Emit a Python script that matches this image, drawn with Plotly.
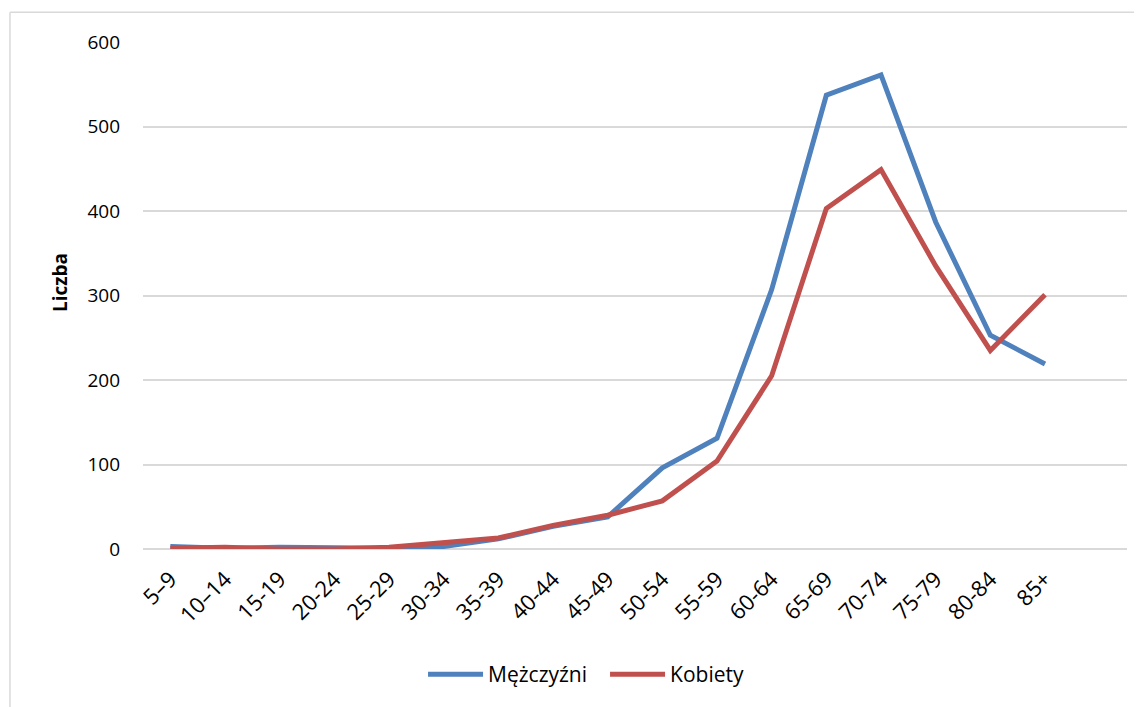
import plotly.graph_objects as go

categories = ["5–9", "10–14", "15-19", "20-24", "25-29", "30-34", "35-39", "40-44",
              "45-49", "50-54", "55-59", "60-64", "65-69", "70-74", "75-79", "80-84", "85+"]
men = [3, 1, 2, 2, 1, 3, 12, 27, 38, 96, 131, 307, 537, 561, 387, 253, 219]
women = [1, 2, 0, 0, 2, 7, 13, 28, 40, 57, 104, 205, 403, 449, 335, 235, 301]

FONT = "Open Sans"

fig = go.Figure()
fig.add_trace(go.Scatter(x=categories, y=men, mode="lines", name="Mężczyźni",
                         line=dict(color="#4F81BD", width=5)))
fig.add_trace(go.Scatter(x=categories, y=women, mode="lines", name="Kobiety",
                         line=dict(color="#C0504D", width=5)))

fig.update_layout(
    width=1134, height=699,
    margin=dict(l=135, r=15, t=34, b=156),
    paper_bgcolor="white", plot_bgcolor="white",
    font=dict(family=FONT, size=18, color="#000000"),
    showlegend=True,
    legend=dict(orientation="h", x=0.2846, xanchor="left", y=-0.2475, yanchor="middle",
                font=dict(size=21), itemwidth=55, entrywidth=112, traceorder="normal"),
    shapes=[
        dict(type="line", xref="paper", yref="paper", x0=-0.1352, x1=1.02, y0=1.0589, y1=1.0589,
             line=dict(color="#d9d9d9", width=1.5)),
        dict(type="line", xref="paper", yref="paper", x0=-0.1352, x1=-0.1352, y0=1.0589, y1=-0.32,
             line=dict(color="#d9d9d9", width=1.5)),
    ],
    annotations=[
        dict(text="<b>Liczba</b>", xref="paper", yref="paper", x=-0.0843, y=0.5246,
             xanchor="center", yanchor="middle", textangle=-90, showarrow=False,
             font=dict(size=19)),
    ],
)
fig.update_xaxes(type="category", range=[-0.5, 17.5], tickangle=-45, showgrid=False,
                 showline=False, ticks="", tickfont=dict(size=22), ticklabelstandoff=12,
                 automargin=False)
fig.update_yaxes(range=[0, 600], dtick=100, showgrid=True, gridcolor="#d9d9d9", gridwidth=1.5,
                 zeroline=True, zerolinecolor="#d9d9d9", zerolinewidth=1.5, showline=False,
                 ticks="", tickfont=dict(size=19), ticklabelstandoff=22, automargin=False)

fig.write_html("out.html")
